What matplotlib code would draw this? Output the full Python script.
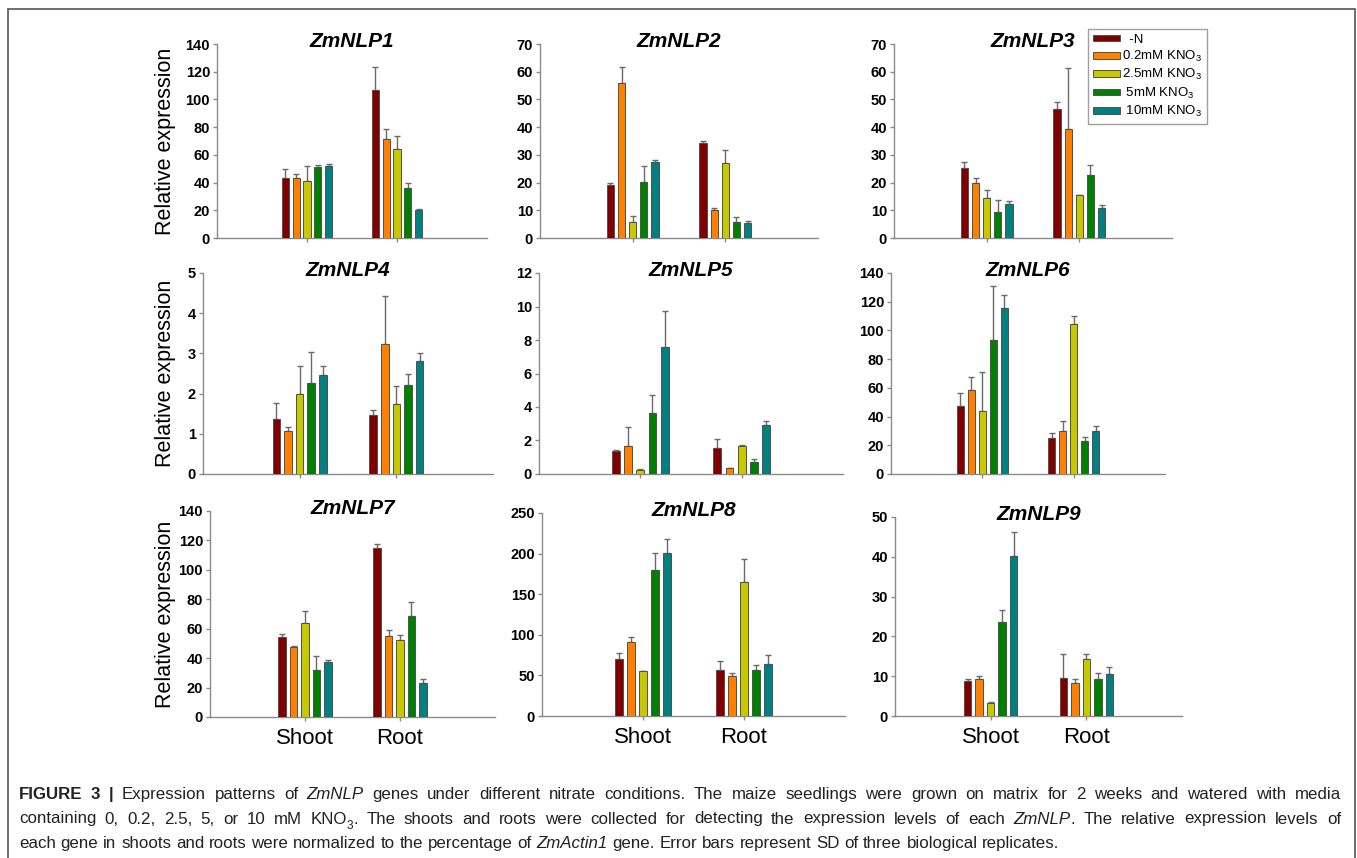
import re
import matplotlib
matplotlib.use('Agg')
import matplotlib.pyplot as plt
import numpy as np
from matplotlib.patches import Patch, Rectangle
from matplotlib import font_manager as fm

plt.rcParams['font.family'] = ['Liberation Sans', 'DejaVu Sans']
plt.rcParams['mathtext.fontset'] = 'custom'
plt.rcParams['mathtext.rm'] = 'Liberation Sans'
plt.rcParams['mathtext.it'] = 'Liberation Sans:italic'
plt.rcParams['mathtext.bf'] = 'Liberation Sans:bold'

# ---------------- data ----------------
genes = ['ZmNLP1', 'ZmNLP2', 'ZmNLP3', 'ZmNLP4', 'ZmNLP5',
         'ZmNLP6', 'ZmNLP7', 'ZmNLP8', 'ZmNLP9']
tissues = ['Shoot', 'Root']
treatments = ['  -N', '0.2mM KNO$_3$', '2.5mM KNO$_3$', ' 5mM KNO$_3$', ' 10mM KNO$_3$']

# mean values: [Shoot], [Root]  (order: -N, 0.2, 2.5, 5, 10 mM)
nlp1_mean = [[43.0, 43.2, 41.3, 51.4, 51.9], [106.9, 71.6, 64.4, 36.0, 20.2]]
nlp1_sd = [[7.0, 2.7, 10.8, 1.0, 1.4], [16.3, 7.2, 9.1, 3.6, 0.9]]
nlp2_mean = [[19.2, 56.1, 5.8, 20.1, 27.3], [34.2, 10.2, 27.0, 5.8, 5.3]]
nlp2_sd = [[0.7, 5.6, 2.0, 5.7, 0.7], [0.8, 0.6, 4.7, 1.8, 0.7]]
nlp3_mean = [[25.1, 19.8, 14.4, 9.5, 12.1], [46.6, 39.4, 15.5, 22.7, 10.7]]
nlp3_sd = [[2.5, 2.0, 3.0, 4.3, 1.3], [2.5, 21.8, 0.1, 3.8, 1.2]]
nlp4_mean = [[1.38, 1.08, 2.00, 2.26, 2.47], [1.48, 3.23, 1.74, 2.21, 2.80]]
nlp4_sd = [[0.38, 0.10, 0.68, 0.77, 0.22], [0.11, 1.19, 0.44, 0.29, 0.20]]
nlp5_mean = [[1.38, 1.65, 0.24, 3.63, 7.57], [1.53, 0.36, 1.65, 0.70, 2.95]]
nlp5_sd = [[0.06, 1.18, 0.04, 1.11, 2.14], [0.58, 0.02, 0.10, 0.22, 0.22]]
nlp6_mean = [[47.4, 58.4, 44.0, 93.3, 115.3], [24.9, 30.2, 104.2, 23.3, 30.2]]
nlp6_sd = [[9.3, 9.0, 26.9, 37.4, 9.4], [3.9, 6.5, 5.6, 2.7, 3.3]]
nlp7_mean = [[54.1, 47.3, 63.9, 31.7, 37.6], [114.6, 55.0, 52.6, 68.6, 23.3]]
nlp7_sd = [[2.5, 1.0, 8.1, 9.8, 1.4], [3.2, 4.4, 3.1, 9.8, 2.5]]
nlp8_mean = [[70.5, 91.0, 55.3, 180.3, 200.8], [56.1, 48.8, 165.2, 56.1, 64.3]]
nlp8_sd = [[7.0, 6.1, 0.3, 20.5, 17.2], [11.5, 4.1, 28.2, 7.0, 10.3]]
nlp9_mean = [[8.9, 9.4, 3.3, 23.7, 40.3], [9.5, 8.2, 14.3, 9.3, 10.5]]
nlp9_sd = [[0.5, 0.55, 0.1, 3.0, 5.9], [6.1, 1.2, 1.3, 1.6, 1.9]]

means = [nlp1_mean, nlp2_mean, nlp3_mean, nlp4_mean, nlp5_mean,
         nlp6_mean, nlp7_mean, nlp8_mean, nlp9_mean]
sds = [nlp1_sd, nlp2_sd, nlp3_sd, nlp4_sd, nlp5_sd,
       nlp6_sd, nlp7_sd, nlp8_sd, nlp9_sd]
y_max = [140, 70, 70, 5, 12, 140, 140, 250, 50]
y_step = [20, 10, 10, 1, 2, 20, 20, 50, 10]

# ---------------- style / layout ----------------
colors = ['#800000', '#FF8000', '#C8C800', '#008000', '#008080']
W, H = 1357, 858
# axes boxes in pixels: left, right, top, bottom
boxes = [(217, 487, 44, 238), (540, 818, 44, 238), (894, 1172, 44, 238),
         (203, 493, 273, 474), (539, 843, 273, 474), (891, 1165, 273, 474),
         (210, 495, 511, 717), (542, 845, 513, 716), (895, 1182, 517, 716)]
axis_gray = '#8a8a8a'

fig = plt.figure(figsize=(W / 100, H / 100), dpi=100)

bar_w = 0.078
step = 0.12
offsets = (np.arange(5) - 2) * step
xpos = np.array([1, 2])

for i, gene in enumerate(genes):
    L, R, T, B = boxes[i]
    ax = fig.add_axes([L / W, 1 - B / H, (R - L) / W, (B - T) / H])
    m = np.array(means[i])
    s = np.array(sds[i])
    for k in range(5):
        xs = xpos + offsets[k]
        ax.errorbar(xs, m[:, k], yerr=[np.zeros(2), s[:, k]], fmt='none',
                    ecolor='#6a6a6a', elinewidth=1.0, capsize=2.2,
                    capthick=1.0, zorder=2)
        ax.bar(xs, m[:, k], width=bar_w, color=colors[k],
               edgecolor='#505050', linewidth=0.7, zorder=3,
               label=treatments[k])
    ax.set_xlim(0, 3)
    ax.set_ylim(0, y_max[i])
    ax.set_yticks(np.arange(0, y_max[i] + 1e-9, y_step[i]))
    yt = ax.get_yticks()
    ax.set_yticklabels([('%g' % v) for v in yt], fontweight='bold', fontsize=10.5)
    ax.set_xticks(xpos)
    if i >= 6:
        ax.set_xticklabels(tissues, fontsize=16)
    else:
        ax.set_xticklabels(['', ''])
    for sp in ['top', 'right']:
        ax.spines[sp].set_visible(False)
    for sp in ['left', 'bottom']:
        ax.spines[sp].set_color(axis_gray)
        ax.spines[sp].set_linewidth(1.0)
    ax.tick_params(axis='both', colors=axis_gray, length=3, width=1,
                   direction='out', labelcolor='black')
    ax.tick_params(axis='x', pad=5)
    ax.tick_params(axis='y', pad=2)
    ax.patch.set_visible(False)
    ax.text(0.5, 0.985, gene, transform=ax.transAxes, ha='center',
            va='baseline', fontsize=15, fontweight='bold', fontstyle='italic')
    if i % 3 == 0:
        fig.text(165 / W, 1 - ((T + B) / 2) / H, 'Relative expression',
                 rotation=90, ha='center', va='center', fontsize=15.5)
    if i == 2:
        h, l = ax.get_legend_handles_labels()
        leg = fig.legend(h, l, loc='upper left',
                         bbox_to_anchor=(1088 / W, 1 - 29 / H),
                         fontsize=9.5, frameon=True, fancybox=False,
                         edgecolor='#888888', handlelength=2.1,
                         handleheight=0.4, handletextpad=0.15,
                         labelspacing=0.25, borderpad=0.35,
                         borderaxespad=0)
        leg.get_frame().set_linewidth(1.0)

# outer frame
fig.patches.append(Rectangle((8 / W, -0.02), (1355 - 8) / W, 1 - 9 / H + 0.02,
                             transform=fig.transFigure, fill=False,
                             edgecolor='#555555', linewidth=1.2))

# ---------------- caption ----------------
cap_lines = [
    "**FIGURE 3 |** Expression patterns of *ZmNLP* genes under different nitrate conditions. The maize seedlings were grown on matrix for 2 weeks and watered with media",
    "containing 0, 0.2, 2.5, 5, or 10 mM KNO_3. The shoots and roots were collected for detecting the expression levels of each *ZmNLP*. The relative expression levels of",
    "each gene in shoots and roots were normalized to the percentage of *ZmActin1* gene. Error bars represent SD of three biological replicates.",
]
cap_baselines = [799, 823.5, 848]
cap_left, cap_right = 19, 1341


def has_font(name):
    try:
        fm.findfont(fm.FontProperties(family=name), fallback_to_default=False)
        return True
    except Exception:
        return False


if has_font('Liberation Sans Narrow'):
    cap_family = ['Liberation Sans Narrow', 'DejaVu Sans']
    cap_fs = 13.8
else:
    cap_family = ['Liberation Sans', 'DejaVu Sans']
    cap_fs = 12.2


def parse_line(line, state):
    words = []
    for w in line.split(' '):
        pieces = []
        for tok in re.split(r'(\*\*|\*|_\d)', w):
            if tok == '**':
                state['b'] = not state['b']
            elif tok == '*':
                state['i'] = not state['i']
            elif len(tok) == 2 and tok[0] == '_':
                pieces.append((tok[1], 'sub'))
            elif tok:
                pieces.append((tok, 'bold' if state['b'] else
                               ('italic' if state['i'] else 'normal')))
        words.append(pieces)
    return words


renderer = fig.canvas.get_renderer()
state = {'b': False, 'i': False}
space_w = None
for li, line in enumerate(cap_lines):
    words = parse_line(line, state)
    word_items = []
    for pieces in words:
        items = []
        for txt, sty in pieces:
            kw = dict(fontsize=cap_fs, color='#222222', family=cap_family)
            dy = 0
            if sty == 'bold':
                kw['fontweight'] = 'bold'
            elif sty == 'italic':
                kw['fontstyle'] = 'italic'
            elif sty == 'sub':
                kw['fontsize'] = cap_fs * 0.7
                dy = -cap_fs * 0.3
            t = fig.text(0, 0, txt, ha='left', va='baseline', **kw)
            wpx = t.get_window_extent(renderer).width
            items.append((t, wpx, dy))
        word_items.append(items)
    if space_w is None:
        tsp = fig.text(0, 0, 'a a', fontsize=cap_fs, family=cap_family)
        tnb = fig.text(0, 0, 'aa', fontsize=cap_fs, family=cap_family)
        space_w = tsp.get_window_extent(renderer).width - tnb.get_window_extent(renderer).width
        tsp.remove()
        tnb.remove()
    widths = [sum(w for _, w, _ in items) for items in word_items]
    n = len(widths)
    if li < len(cap_lines) - 1:
        gap = (cap_right - cap_left - sum(widths)) / (n - 1)
    else:
        gap = space_w
    x = cap_left
    yb = cap_baselines[li]
    for items, wsum in zip(word_items, widths):
        xx = x
        for t, wpx, dy in items:
            t.set_position((xx / W, 1 - (yb - dy * 100 / 72) / H))
            xx += wpx
        x += wsum + gap

fig.savefig('out.png', dpi=100)
